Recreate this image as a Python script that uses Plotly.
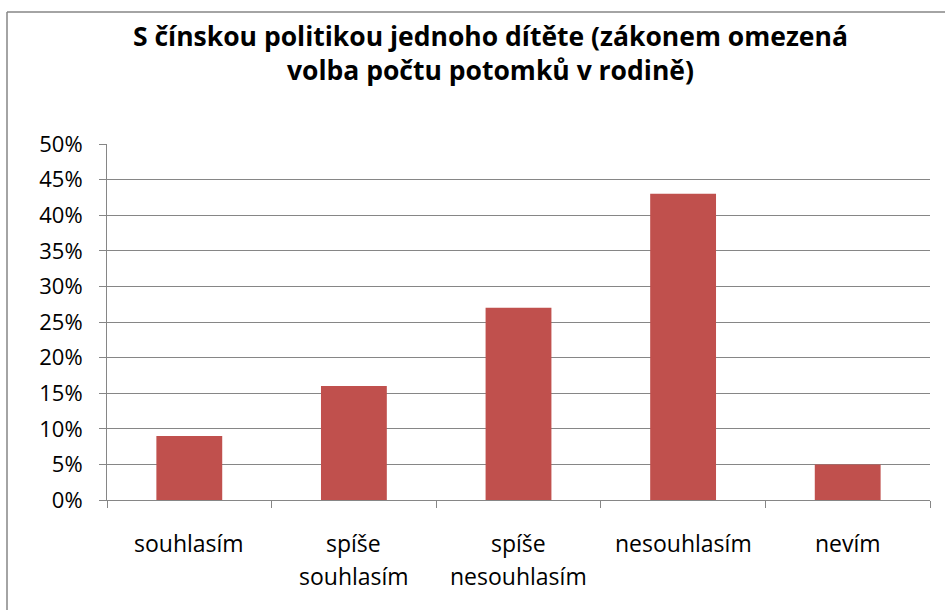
import plotly.graph_objects as go

categories = ["souhlasím", "spíše souhlasím", "spíše nesouhlasím", "nesouhlasím", "nevím"]
label_lines = [["souhlasím"], ["spíše", "souhlasím"], ["spíše", "nesouhlasím"], ["nesouhlasím"], ["nevím"]]
values = [0.09, 0.16, 0.27, 0.43, 0.05]
title_text = "S čínskou politikou jednoho dítěte (zákonem omezená<br>volba počtu potomků v rodině)"

FONT = "Open Sans"
GRAY = "#868686"

fig = go.Figure(go.Bar(x=categories, y=values, marker=dict(color="#C0504D", line=dict(width=0)), width=0.4))

annotations = []
for cat, lines in zip(categories, label_lines):
    for i, ln in enumerate(lines):
        annotations.append(dict(x=cat, xref="x", y=0, yref="paper", text=ln, showarrow=False,
                                yanchor="middle", yshift=-43 - 33 * i,
                                font=dict(family=FONT, size=23, color="#000000")))

fig.update_layout(
    width=945, height=610,
    margin=dict(l=107, r=15, t=144, b=110),
    paper_bgcolor="white", plot_bgcolor="white",
    showlegend=False,
    title=dict(text=title_text, x=0.519, xanchor="center", y=0.925, yanchor="top",
               font=dict(family=FONT, size=26.5, color="#000000", weight="bold")),
    xaxis=dict(showticklabels=False, ticks="outside", tickson="boundaries", ticklen=7,
               tickcolor=GRAY, showline=True, linecolor=GRAY, linewidth=1, showgrid=False),
    yaxis=dict(range=[0, 0.5], dtick=0.05, tickformat=".0%", ticks="outside", ticklen=7,
               tickcolor=GRAY, showline=True, linecolor=GRAY, linewidth=1,
               showgrid=True, gridcolor=GRAY, gridwidth=1, zeroline=False,
               ticklabelstandoff=12,
               tickfont=dict(family=FONT, size=22, color="#000000")),
    annotations=annotations,
    shapes=[
        dict(type="line", xref="paper", yref="paper", x0=-0.1215, x1=-0.1215, y0=-0.35, y1=1.3708,
             line=dict(color=GRAY, width=1.5), layer="above"),
        dict(type="line", xref="paper", yref="paper", x0=-0.1215, x1=1.05, y0=1.3708, y1=1.3708,
             line=dict(color=GRAY, width=1.5), layer="above"),
    ],
)

fig.write_html("out.html", config={"displayModeBar": False},
               post_script="document.body.style.margin='0';")
